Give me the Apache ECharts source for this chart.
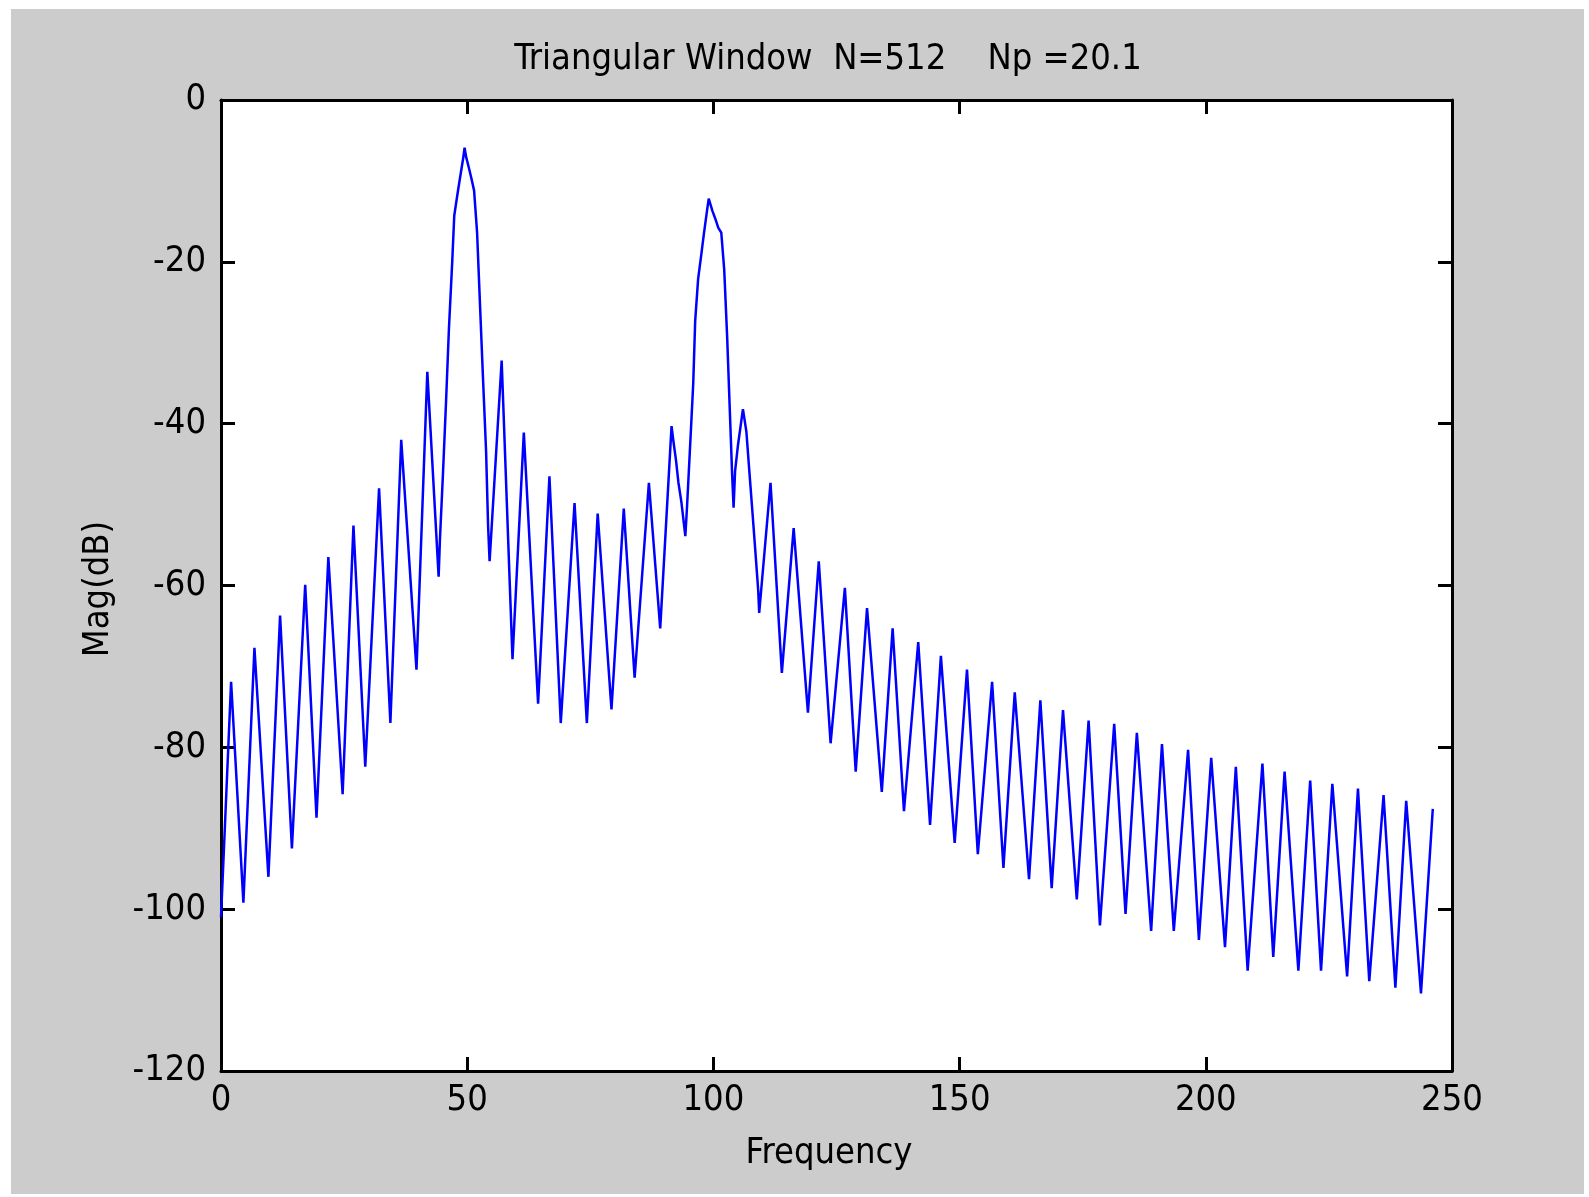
<!DOCTYPE html>
<html>
<head>
<meta charset="utf-8">
<script src="https://cdn.jsdelivr.net/npm/echarts@6/dist/echarts.min.js"></script>
<style>
  html, body { margin: 0; padding: 0; background: #ffffff; width: 1589px; height: 1197px; overflow: hidden; }
  #chart { position: absolute; left: 11px; top: 9px; width: 1573px; height: 1185px; background: #cccccc; }
</style>
</head>
<body>
<div id="chart"></div>
<script>
// ---- data (frequency in Hz, magnitude in dB) ----
const titleText = 'Triangular Window  N=512    Np =20.1';
const xName = 'Frequency';
const yName = 'Mag(dB)';
const xTicks = [0, 50, 100, 150, 200, 250];
const yTicks = [-120, -100, -80, -60, -40, -20, 0];

const freq = [
  0, 2.05, 4.55, 6.79, 9.63, 12.0, 14.4, 17.1, 19.4, 21.8, 24.7, 26.9, 29.3, 32.1, 34.4, 36.6, 39.7, 41.9, 44.2,
  44.46, 45.10, 45.71, 46.28, 46.96, 47.37, 47.98, 48.52, 49.16, 49.47, 49.77, 50.35, 50.86, 51.40, 52.01, 52.62, 53.23, 53.84, 54.24, 54.55,
  57.0, 59.2, 61.5, 64.4, 66.7, 69.0, 71.8, 74.3, 76.5, 79.3, 81.8, 84.0, 86.9, 89.2, 91.5,
  91.8, 92.4, 92.9, 93.5, 94.3, 94.65, 95.3, 95.9, 96.3, 96.9, 97.5, 98.1, 98.7, 99.05, 99.4, 99.8, 100.4, 101.0, 101.6,
  102.2, 102.8, 103.3, 103.8, 104.1, 104.4, 105.0, 106.0, 106.7, 107.3, 107.9, 108.5, 109.1, 109.3,
  111.6, 113.9, 116.3, 119.2, 121.4, 123.8, 126.7, 128.9, 131.2, 134.2, 136.4, 138.7, 141.6, 144.0, 146.2, 149.0,
  151.5, 153.7, 156.6, 158.9, 161.2, 164.1, 166.4, 168.7, 171.0, 173.8, 176.2, 178.5, 181.4, 183.7, 186.0, 188.9,
  191.1, 193.5, 196.4, 198.6, 201.1, 203.9, 206.1, 208.5, 211.5, 213.7, 216.0, 218.8, 221.2, 223.4, 225.7, 228.7,
  230.9, 233.2, 236.1, 238.5, 240.7, 243.7, 246.1
];
const magDb = [
  -101, -71.9, -99.2, -67.7, -96.0, -63.7, -92.5, -59.9, -88.7, -56.5, -85.8, -52.6, -82.4, -48.0, -77.0, -42.0, -70.4, -33.6, -58.9,
  -54.35, -45.9, -37.2, -28.4, -20.0, -14.3, -11.8, -9.7, -7.3, -5.9, -7.0, -8.4, -9.7, -11.2, -16.4, -25.6, -34.7, -43.5, -52.6, -57.0,
  -32.2, -69.1, -41.1, -74.6, -46.5, -77.0, -49.8, -77.0, -51.1, -75.3, -50.5, -71.4, -47.3, -65.3, -40.3,
  -41.8, -44.5, -47.3, -49.7, -53.9, -50.2, -42.4, -35.1, -27.3, -22.1, -19.3, -16.4, -13.7, -12.2, -12.9, -13.7, -14.7, -15.8, -16.4,
  -21.0, -29.4, -37.8, -46.2, -50.4, -45.9, -42.6, -38.2, -41.0, -45.9, -50.7, -55.6, -60.6, -63.4,
  -47.3, -70.8, -52.9, -75.7, -57.0, -79.5, -60.3, -83.0, -62.8, -85.5, -65.3, -87.9, -67.0, -89.6, -68.7, -91.8,
  -70.4, -93.2, -71.9, -94.9, -73.2, -96.3, -74.2, -97.4, -75.4, -98.8, -76.7, -102.0, -77.1, -100.6, -78.2, -102.7,
  -79.6, -102.7, -80.3, -103.8, -81.3, -104.7, -82.4, -107.6, -82.0, -105.9, -83.0, -107.6, -84.1, -107.6, -84.5, -108.3,
  -85.1, -108.9, -85.9, -109.7, -86.6, -110.4, -87.6
];

// ---- build chart ----
const FONT_FAMILY = '"Liberation Sans Narrow", "DejaVu Sans Condensed", "Liberation Sans", sans-serif';
const FS = 36;
const points = freq.map((f, i) => [f, magDb[i]]);

const chart = echarts.init(document.getElementById('chart'), null, { renderer: 'canvas' });

const axisLineStyle = { color: '#000', width: 3 };
const xBase = {
  type: 'value',
  min: xTicks[0], max: xTicks[xTicks.length - 1], interval: xTicks[1] - xTicks[0],
  axisLine: { show: true, onZero: false, lineStyle: axisLineStyle },
  axisTick: { show: true, inside: true, length: 14, lineStyle: { color: '#000', width: 3 } },
  splitLine: { show: false }
};
const yBase = {
  type: 'value',
  min: yTicks[0], max: yTicks[yTicks.length - 1], interval: yTicks[1] - yTicks[0],
  axisLine: { show: true, onZero: false, lineStyle: axisLineStyle },
  axisTick: { show: true, inside: true, length: 14, lineStyle: { color: '#000', width: 3 } },
  splitLine: { show: false }
};

chart.setOption({
  animation: false,
  backgroundColor: 'transparent',
  grid: { left: 210, top: 91, width: 1231, height: 971, show: true, backgroundColor: '#ffffff', borderWidth: 0 },
  xAxis: [
    Object.assign({}, xBase, { position: 'bottom',
      axisLabel: { show: true, color: '#000', fontSize: FS, fontFamily: FONT_FAMILY, margin: 12 } }),
    Object.assign({}, xBase, { position: 'top', axisLabel: { show: false } })
  ],
  yAxis: [
    Object.assign({}, yBase, { position: 'left',
      axisLabel: { show: true, color: '#000', fontSize: FS, fontFamily: FONT_FAMILY, margin: 15 } }),
    Object.assign({}, yBase, { position: 'right', axisLabel: { show: false } })
  ],
  series: [{
    type: 'line',
    xAxisIndex: 0, yAxisIndex: 0,
    data: points,
    showSymbol: false,
    symbol: 'none',
    lineStyle: { color: '#0000ff', width: 2.5 },
    z: 3
  }],
  graphic: [
    { type: 'text', x: 817, y: 51, z: 10,
      style: { text: titleText, font: FS + 'px ' + FONT_FAMILY, fill: '#000', align: 'center', verticalAlign: 'middle' } },
    { type: 'text', x: 818, y: 1145, z: 10,
      style: { text: xName, font: FS + 'px ' + FONT_FAMILY, fill: '#000', align: 'center', verticalAlign: 'middle' } },
    { type: 'text', x: 88, y: 580, rotation: Math.PI / 2, z: 10,
      style: { text: yName, font: FS + 'px ' + FONT_FAMILY, fill: '#000', align: 'center', verticalAlign: 'middle' } }
  ]
});
</script>
</body>
</html>
